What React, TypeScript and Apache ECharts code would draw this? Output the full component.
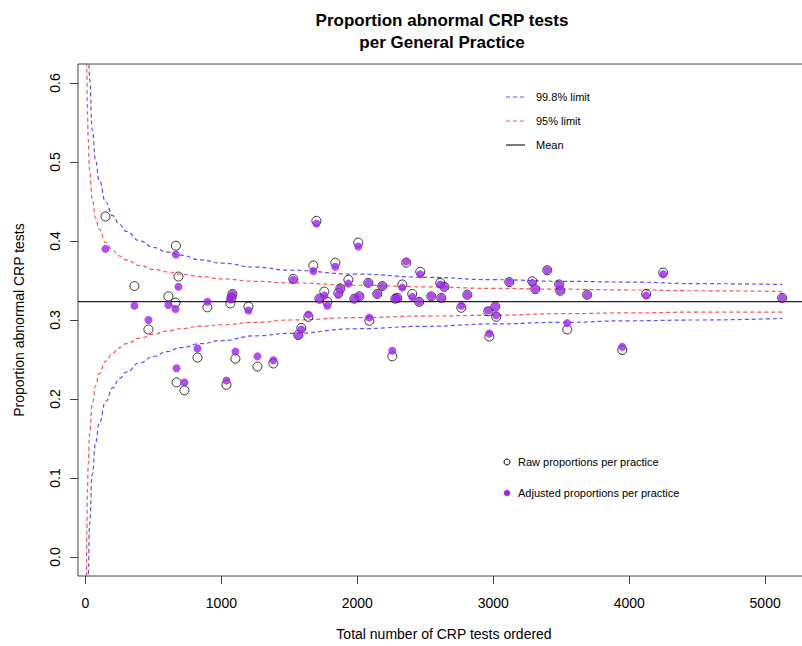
import React, { useEffect, useRef } from "react";
import * as echarts from "echarts";

// Practices: number of CRP tests ordered, raw and adjusted proportion abnormal
const practiceTests = [147, 360, 463, 610, 662, 665, 670, 728, 684, 824, 897, 1037, 1066, 1074, 1081, 1103, 1199, 1265, 1382, 1529, 1566, 1588, 1640, 1676, 1699, 1721, 1757, 1779, 1838, 1860, 1875, 1934, 1978, 2007, 2015, 2081, 2088, 2147, 2184, 2257, 2279, 2294, 2331, 2360, 2404, 2463, 2455, 2544, 2610, 2640, 2618, 2765, 2809, 2963, 2971, 3015, 3022, 3118, 3287, 3309, 3397, 3485, 3493, 3544, 3691, 3949, 4125, 4250, 5125];
const rawProportion = [0.431, 0.343, 0.288, 0.330, 0.322, 0.394, 0.221, 0.211, 0.355, 0.2525, 0.316, 0.218, 0.321, 0.328, 0.333, 0.251, 0.317, 0.241, 0.245, 0.352, 0.281, 0.290, 0.304, 0.369, 0.4255, 0.327, 0.336, 0.323, 0.3725, 0.334, 0.340, 0.351, 0.327, 0.398, 0.330, 0.347, 0.299, 0.333, 0.343, 0.254, 0.327, 0.328, 0.345, 0.3725, 0.333, 0.361, 0.323, 0.330, 0.347, 0.342, 0.328, 0.3155, 0.332, 0.311, 0.279, 0.317, 0.304, 0.348, 0.349, 0.339, 0.363, 0.345, 0.337, 0.288, 0.332, 0.262, 0.333, 0.360, 0.328];
const adjustedProportion = [0.390, 0.318, 0.300, 0.319, 0.314, 0.383, 0.239, 0.221, 0.342, 0.264, 0.323, 0.2235, 0.326, 0.329, 0.333, 0.260, 0.312, 0.254, 0.249, 0.351, 0.280, 0.288, 0.307, 0.362, 0.422, 0.327, 0.331, 0.318, 0.3675, 0.332, 0.340, 0.346, 0.327, 0.393, 0.330, 0.347, 0.303, 0.333, 0.343, 0.261, 0.327, 0.328, 0.341, 0.374, 0.329, 0.358, 0.323, 0.330, 0.345, 0.342, 0.328, 0.318, 0.332, 0.312, 0.283, 0.317, 0.306, 0.348, 0.347, 0.339, 0.363, 0.345, 0.337, 0.296, 0.332, 0.266, 0.331, 0.358, 0.328];

const meanProportion = 0.3232;

// Funnel control limits
const limitTests = [5, 8, 10, 15, 20, 30, 50, 75, 100, 150, 200, 250, 300, 400, 500, 600, 700, 850, 1000, 1250, 1500, 2000, 2500, 3000, 3500, 4000, 4500, 5125];
const upper998 = [1.013, 0.869, 0.811, 0.722, 0.668, 0.605, 0.541, 0.501, 0.477, 0.449, 0.432, 0.421, 0.412, 0.400, 0.392, 0.386, 0.382, 0.376, 0.372, 0.367, 0.363, 0.358, 0.354, 0.351, 0.349, 0.348, 0.346, 0.345];
const lower998 = [-0.367, -0.223, -0.165, -0.076, -0.022, 0.041, 0.105, 0.145, 0.169, 0.197, 0.214, 0.226, 0.234, 0.246, 0.254, 0.260, 0.265, 0.270, 0.274, 0.280, 0.283, 0.289, 0.292, 0.295, 0.297, 0.299, 0.300, 0.302];
const upper95 = [0.733, 0.647, 0.613, 0.560, 0.528, 0.490, 0.453, 0.429, 0.415, 0.398, 0.388, 0.381, 0.376, 0.369, 0.364, 0.361, 0.358, 0.355, 0.352, 0.349, 0.347, 0.344, 0.342, 0.340, 0.339, 0.338, 0.337, 0.336];
const lower95 = [-0.087, -0.001, 0.033, 0.086, 0.118, 0.156, 0.194, 0.217, 0.232, 0.248, 0.258, 0.265, 0.270, 0.277, 0.282, 0.286, 0.289, 0.292, 0.294, 0.297, 0.300, 0.303, 0.305, 0.306, 0.308, 0.309, 0.310, 0.310];

const xTicks = [0, 1000, 2000, 3000, 4000, 5000];
const yTicks = [0, 0.1, 0.2, 0.3, 0.4, 0.5, 0.6];

const X_MIN = -55;
const X_MAX = 5330;
const Y_MIN = -0.024;
const Y_MAX = 0.624;

const FONT = "'Liberation Sans', Arial, Helvetica, sans-serif";
const BLUE = "rgba(40,40,255,0.8)";
const RED = "rgba(255,40,40,0.8)";
const PURPLE = "#A020F0";

export default function App() {
  const ref = useRef<HTMLDivElement>(null);

  useEffect(() => {
    if (!ref.current) return;
    const chart = echarts.init(ref.current, undefined, { renderer: "svg" });
    const pair = (xs: number[], ys: number[]) => xs.map((x, i) => [x, ys[i]]);
    const dashed = (color: string) => ({ color, width: 1.2, type: [4, 3] as number[] });
    const limitSeries = (name: string, ys: number[], color: string) => ({
      name,
      type: "line",
      data: pair(limitTests, ys),
      showSymbol: false,
      smooth: true,
      smoothMonotone: "x",
      clip: true,
      silent: true,
      lineStyle: dashed(color),
      z: 2,
    });

    const legendTop = [
      { y: 97, label: "99.8% limit", color: BLUE, dash: true },
      { y: 121, label: "95% limit", color: RED, dash: true },
      { y: 145, label: "Mean", color: "#222", dash: false },
    ];

    const graphics: any[] = [
      {
        type: "text",
        x: 442,
        y: 9,
        style: {
          text: "Proportion abnormal CRP tests\nper General Practice",
          font: `bold 17px ${FONT}`,
          fill: "#000",
          textAlign: "center",
          lineHeight: 22,
        },
      },
    ];
    legendTop.forEach((l) => {
      graphics.push({
        type: "line",
        shape: { x1: 506, y1: l.y, x2: 525, y2: l.y },
        style: { stroke: l.color, lineWidth: 1.2, lineDash: l.dash ? [4, 3] : null },
      });
      graphics.push({
        type: "text",
        x: 536,
        y: l.y,
        style: { text: l.label, font: `11px ${FONT}`, fill: "#000", textVerticalAlign: "middle" },
      });
    });
    graphics.push({
      type: "circle",
      shape: { cx: 507, cy: 462, r: 3 },
      style: { fill: "none", stroke: "#000", lineWidth: 1 },
    });
    graphics.push({
      type: "text",
      x: 518,
      y: 462,
      style: { text: "Raw proportions per practice", font: `11px ${FONT}`, fill: "#000", textVerticalAlign: "middle" },
    });
    graphics.push({
      type: "circle",
      shape: { cx: 507, cy: 493, r: 3 },
      style: { fill: PURPLE, stroke: PURPLE, lineWidth: 0.5 },
    });
    graphics.push({
      type: "text",
      x: 518,
      y: 493,
      style: { text: "Adjusted proportions per practice", font: `11px ${FONT}`, fill: "#000", textVerticalAlign: "middle" },
    });

    chart.setOption({
      animation: false,
      textStyle: { fontFamily: FONT },
      grid: {
        left: 78,
        top: 64,
        width: 732,
        height: 513,
        show: true,
        borderColor: "#444",
        borderWidth: 1,
        backgroundColor: "transparent",
        containLabel: false,
      },
      xAxis: {
        type: "value",
        min: X_MIN,
        max: X_MAX,
        axisLine: { show: false, onZero: false },
        splitLine: { show: false },
        axisTick: { show: true, length: 8, customValues: xTicks, lineStyle: { color: "#444" } },
        axisLabel: {
          customValues: xTicks,
          color: "#000",
          fontSize: 14,
          margin: 20,
          fontFamily: FONT,
          formatter: (v: number) => String(v),
        },
        name: "Total number of CRP tests ordered",
        nameLocation: "middle",
        nameGap: 51,
        nameTextStyle: { color: "#000", fontSize: 14, fontFamily: FONT },
      },
      yAxis: {
        type: "value",
        min: Y_MIN,
        max: Y_MAX,
        axisLine: { show: false, onZero: false },
        splitLine: { show: false },
        axisTick: { show: true, length: 8, customValues: yTicks, lineStyle: { color: "#444" } },
        axisLabel: {
          customValues: yTicks,
          rotate: 90,
          color: "#000",
          fontSize: 14,
          margin: 16,
          fontFamily: FONT,
          formatter: (v: number) => v.toFixed(1),
        },
        name: "Proportion abnormal CRP tests",
        nameLocation: "middle",
        nameGap: 52,
        nameTextStyle: { color: "#000", fontSize: 14, fontFamily: FONT },
      },
      graphic: graphics,
      series: [
        limitSeries("99.8% upper", upper998, BLUE),
        limitSeries("99.8% lower", lower998, BLUE),
        limitSeries("95% upper", upper95, RED),
        limitSeries("95% lower", lower95, RED),
        {
          name: "Mean",
          type: "line",
          data: [
            [X_MIN, meanProportion],
            [X_MAX, meanProportion],
          ],
          showSymbol: false,
          silent: true,
          lineStyle: { color: "#222", width: 1.3 },
          z: 3,
        },
        {
          name: "Raw proportions per practice",
          type: "scatter",
          data: pair(practiceTests, rawProportion),
          symbol: "circle",
          symbolSize: 9,
          itemStyle: { color: "rgba(0,0,0,0)", borderColor: "#000", borderWidth: 1 },
          z: 4,
        },
        {
          name: "Adjusted proportions per practice",
          type: "scatter",
          data: pair(practiceTests, adjustedProportion),
          symbol: "circle",
          symbolSize: 8,
          itemStyle: { color: PURPLE },
          z: 5,
        },
      ],
    });
    return () => chart.dispose();
  }, []);

  return (
    <div style={{ position: "fixed", left: 0, top: 0, width: 802, height: 646, overflow: "hidden", background: "#fff" }}>
      <div ref={ref} style={{ width: 830, height: 646 }} />
    </div>
  );
}
